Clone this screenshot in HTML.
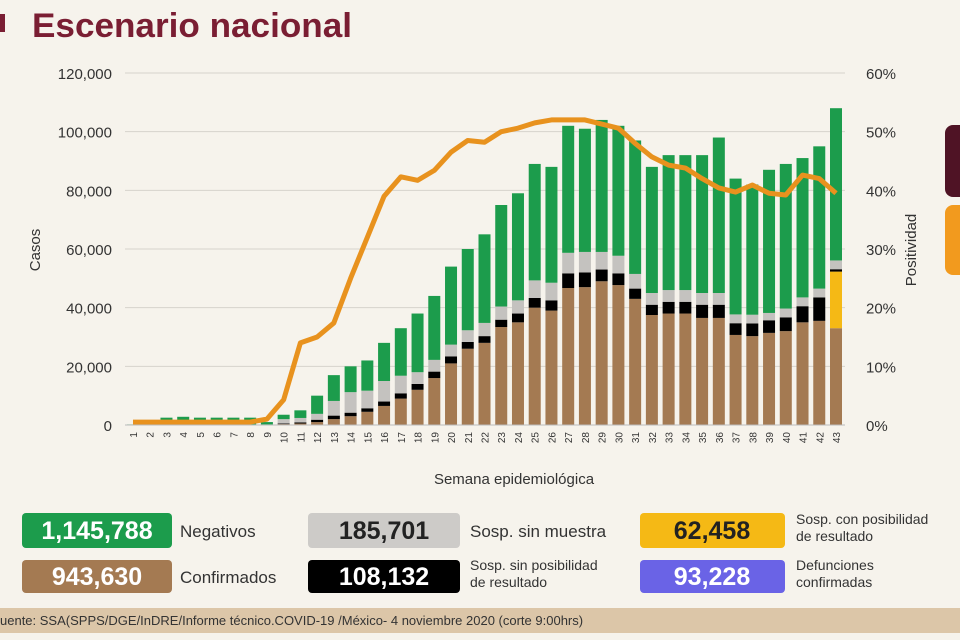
<!DOCTYPE html>
<html><head><meta charset="utf-8"><style>
body{margin:0;width:960px;height:640px;overflow:hidden;background:#f6f3ec;font-family:"Liberation Sans",sans-serif}
svg{display:block}
</style></head><body>
<svg id="chart" width="960" height="640" xmlns="http://www.w3.org/2000/svg">
<rect x="0" y="0" width="960" height="640" fill="#f6f3ec"/>
<rect x="0" y="14" width="5" height="18" fill="#7a1e33"/>
<text x="32" y="37" font-size="34" font-weight="bold" fill="#7a1e33" textLength="320" lengthAdjust="spacingAndGlyphs">Escenario nacional</text>
<rect x="945" y="125" width="30" height="72" rx="8" fill="#4f1325"/>
<rect x="945" y="205" width="30" height="70" rx="8" fill="#f29a1e"/>
<g id="grid"></g><g id="bars"></g><g id="line"></g><g id="axes"></g>
<text transform="translate(40,250) rotate(-90)" text-anchor="middle" font-size="15" fill="#333">Casos</text>
<text transform="translate(916,250) rotate(-90)" text-anchor="middle" font-size="15" fill="#333">Positividad</text>
<text x="514" y="484" text-anchor="middle" font-size="15" fill="#333">Semana epidemiológica</text>

<g font-size="17">
<rect x="22" y="513" width="150" height="35" rx="4" fill="#1c9c4c"/>
<text x="97" y="539" text-anchor="middle" font-size="25" font-weight="bold" fill="#fff">1,145,788</text>
<text x="180" y="537" fill="#333">Negativos</text>
<rect x="308" y="513" width="152" height="35" rx="4" fill="#cdcbc8"/>
<text x="384" y="539" text-anchor="middle" font-size="25" font-weight="bold" fill="#222">185,701</text>
<text x="470" y="537" fill="#333">Sosp. sin muestra</text>
<rect x="640" y="513" width="145" height="35" rx="4" fill="#f5b915"/>
<text x="712" y="539" text-anchor="middle" font-size="25" font-weight="bold" fill="#222">62,458</text>
<text x="796" y="524" font-size="14" fill="#333">Sosp. con posibilidad</text>
<text x="796" y="541" font-size="14" fill="#333">de resultado</text>
<rect x="22" y="560" width="150" height="33" rx="4" fill="#a47a52"/>
<text x="97" y="585" text-anchor="middle" font-size="25" font-weight="bold" fill="#fff">943,630</text>
<text x="180" y="583" fill="#333">Confirmados</text>
<rect x="308" y="560" width="152" height="33" rx="4" fill="#000"/>
<text x="384" y="585" text-anchor="middle" font-size="25" font-weight="bold" fill="#fff">108,132</text>
<text x="470" y="570" font-size="14" fill="#333">Sosp. sin posibilidad</text>
<text x="470" y="587" font-size="14" fill="#333">de resultado</text>
<rect x="640" y="560" width="145" height="33" rx="4" fill="#6a63e6"/>
<text x="712" y="585" text-anchor="middle" font-size="25" font-weight="bold" fill="#fff">93,228</text>
<text x="796" y="570" font-size="14" fill="#333">Defunciones</text>
<text x="796" y="587" font-size="14" fill="#333">confirmadas</text>
</g>
<rect x="0" y="608" width="960" height="25" fill="#dcc6a8"/>
<text x="0" y="625" font-size="13" fill="#333">uente: SSA(SPPS/DGE/InDRE/Informe técnico.COVID-19 /México- 4 noviembre 2020 (corte 9:00hrs)</text>
</svg>
<script>
const weeks=[1,2,3,4,5,6,7,8,9,10,11,12,13,14,15,16,17,18,19,20,21,22,23,24,25,26,27,28,29,30,31,32,33,34,35,36,37,38,39,40,41,42,43];
const confirmados=[0,0,0,0,0,0,0,0,0,0.3,0.5,1,2,3,4.5,6.5,9,12,16,21,26,28,33.4,35,40,39,46.7,47,49,47.7,43,37.5,38,38,36.5,36.5,30.7,30.3,31.4,32,35,35.5,33];
const conPosibilidad=[0,0,0,0,0,0,0,0,0,0,0,0,0,0,0,0,0,0,0,0,0,0,0,0,0,0,0,0,0,0,0,0,0,0,0,0,0,0,0,0,0,0,19.3];
const sinPosibilidad=[0,0,0,0,0,0,0,0,0,0.2,0.4,0.8,1.2,1.2,1.2,1.5,1.8,2,2.2,2.4,2.3,2.3,2.5,3,3.3,3.5,5,5,4,4,3.5,3.5,4,4,4.5,4.5,4,4.3,4.3,4.7,5.5,8,0.8];
const sinMuestra=[0.1,0.2,0.2,0.2,0.2,0.2,0.2,0.2,0.2,1.5,1.5,2,5,7,6,7,6,4,4,4,4,4.5,4.5,4.5,6,6,7,7,6,6,5,4,4,4,4,4,3,3,2.5,3,3,3,3];
const negativos=[0.1,1.3,2.3,2.6,2.3,2.3,2.3,2.3,0.8,1.5,2.6,6.2,8.8,8.8,10.3,13,16.2,20,21.8,26.6,27.7,30.2,34.6,36.5,39.7,39.5,43.3,42,45,44.3,45.5,43,46,46,47,53,46.3,44.4,48.8,49.3,47.5,48.5,51.9];
const positividad=[0.5,0.5,0.5,0.5,0.5,0.5,0.5,0.5,1,4.3,14,15,17.4,25,32,39,42.3,41.7,43.4,46.5,48.5,48.2,50,50.6,51.5,52,52,52,51.3,50.6,48,45.7,44.3,43.8,42,40.4,39.7,40.9,39.5,39.2,42.6,42,39.5];
const yTicks=[0,20000,40000,60000,80000,100000,120000];
const yTickLabels=["0","20,000","40,000","60,000","80,000","100,000","120,000"];
const y2Ticks=[0,10,20,30,40,50,60];
const NS="http://www.w3.org/2000/svg";
const y0=425,y1=73,x1=133,x43=836;
const yScale=v=>y0-(v/120)*(y0-y1);
const yScale2=p=>y0-(p/60)*(y0-y1);
const xScale=w=>x1+(w-1)*(x43-x1)/42;
function mk(tag,attrs,parent){const e=document.createElementNS(NS,tag);for(const k in attrs)e.setAttribute(k,attrs[k]);parent.appendChild(e);return e;}
const grid=document.getElementById('grid'),axes=document.getElementById('axes'),bars=document.getElementById('bars'),line=document.getElementById('line');
yTicks.forEach((t,i)=>{
 const y=yScale(t/1000);
 const g=mk('line',{x1:125,x2:845,y1:y,y2:y,stroke:'#d6d3cd','stroke-width':1},grid);
 
 
 const tl=mk('text',{x:112,y:y+6,'text-anchor':'end','font-size':15,fill:'#333'},axes);
 tl.textContent=yTickLabels[i];
 
 
});
y2Ticks.forEach(p=>{
 const y=yScale2(p);
 const tl=mk('text',{x:866,y:y+6,'font-size':15,fill:'#333'},axes);
 tl.textContent=p+'%';
 
 
});
const series=[[confirmados,'#a47a52','confirmados'],[conPosibilidad,'#f5b915','con-posibilidad'],[sinPosibilidad,'#000','sin-posibilidad'],[sinMuestra,'#c4c2bf','sin-muestra'],[negativos,'#1c9c4c','negativos']];
weeks.forEach((w,i)=>{
 let base=0;const x=xScale(w)-6;
 series.forEach(([arr,col,nm])=>{
  const v=arr[i];if(v<=0)return;
  const r=mk('rect',{x:x,width:12,y:yScale(base+v),height:yScale(base)-yScale(base+v),fill:col},bars);
  
  
  base+=v;
 });
 const t=mk('text',{transform:`translate(${xScale(w)+4},432) rotate(-90)`,'text-anchor':'end','font-size':10,fill:'#333'},axes);
 t.textContent=w;
 
 
});
const bl=mk('line',{x1:125,x2:845,y1:y0,y2:y0,stroke:'#bbb','stroke-width':1},axes);


const pts=weeks.map((w,i)=>xScale(w)+','+yScale2(positividad[i])).join(' ');
const pl=mk('polyline',{points:pts,fill:'none',stroke:'#e8921e','stroke-width':5,'stroke-linejoin':'round'},line);


</script>
</body></html>
